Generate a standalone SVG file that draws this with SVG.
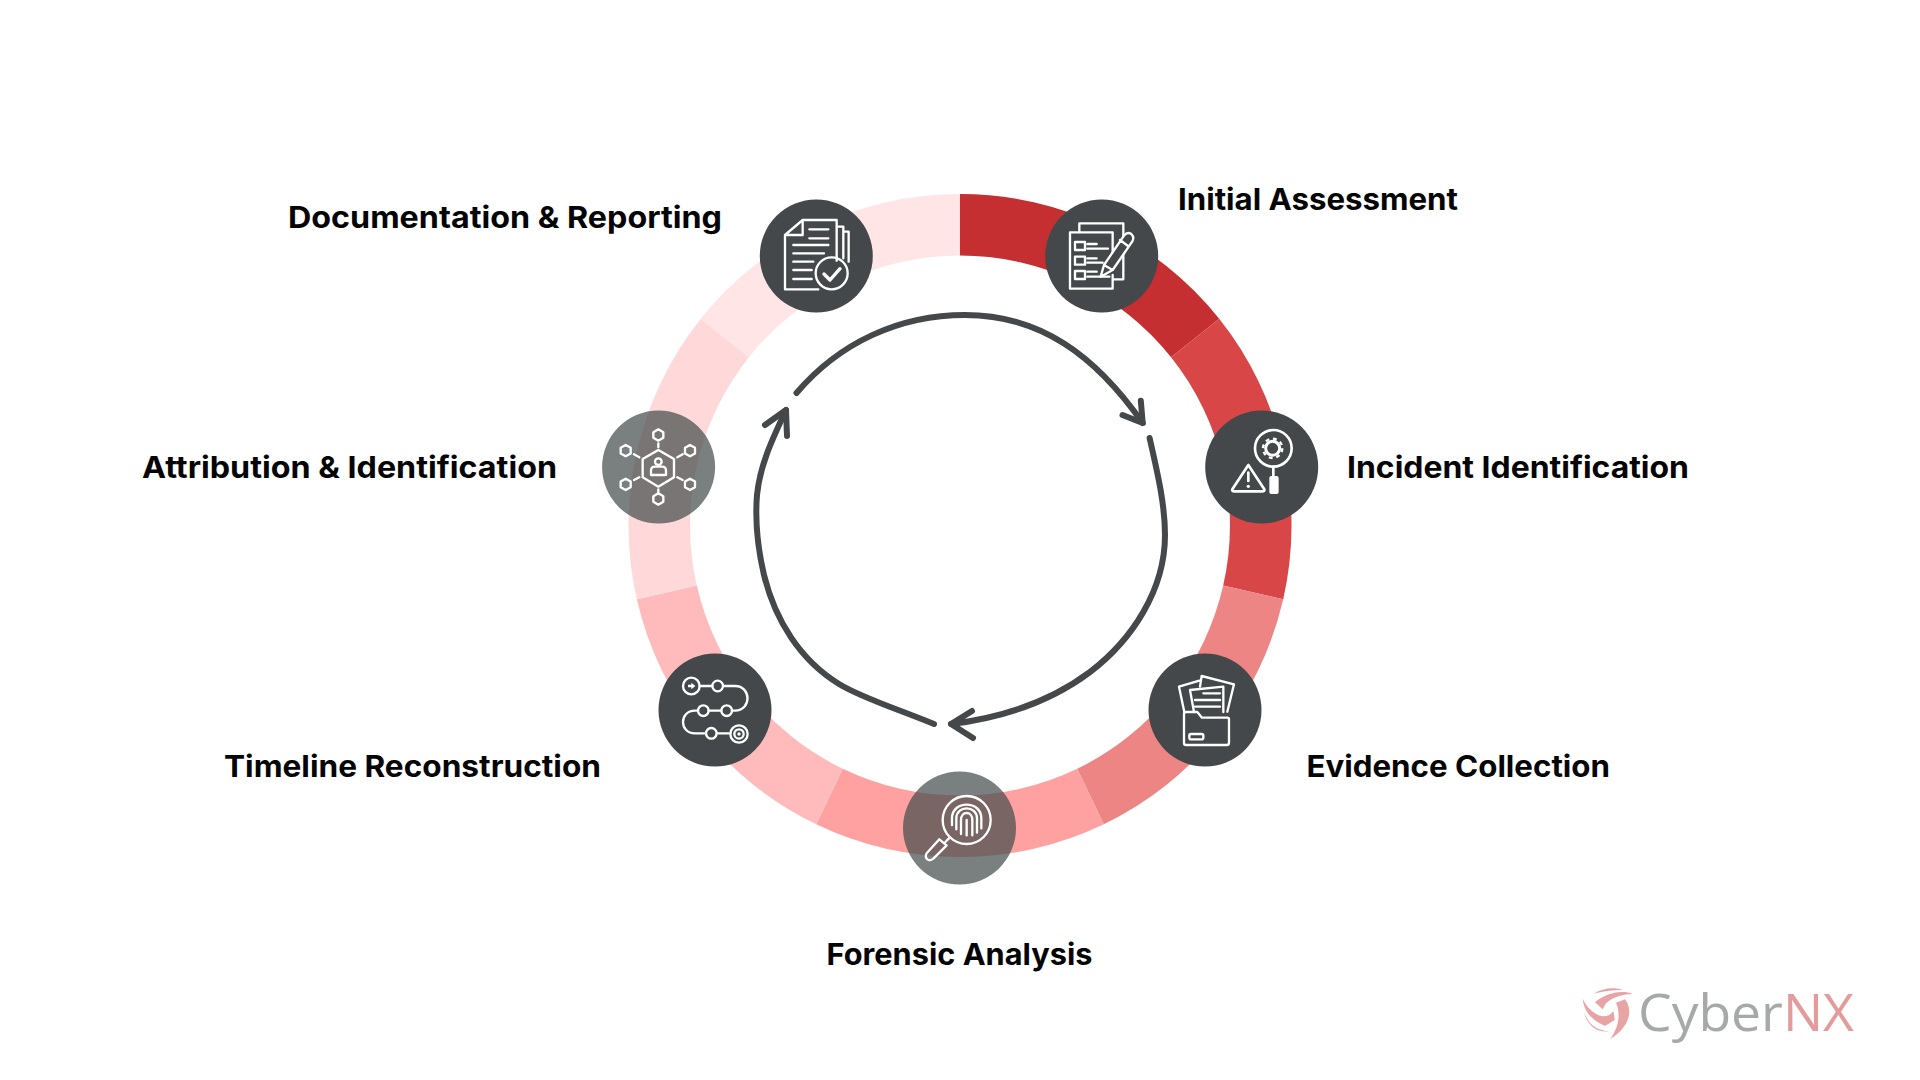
<svg xmlns="http://www.w3.org/2000/svg" xmlns:xlink="http://www.w3.org/1999/xlink" width="1920" height="1080" viewBox="0 0 1920 1080">
<style>
.lbl{font-family:"Inter","Liberation Sans",sans-serif;font-weight:700;font-size:30px;fill:#050505}
.ic{fill:none;stroke:#fff;stroke-width:7;stroke-linecap:round;stroke-linejoin:round}
.fw{fill:#fff;stroke:none}
.disc{fill:#45484A}
.discT{fill:#464E4D;fill-opacity:.72}
.arc{fill:none;stroke:#45484A;stroke-width:6;stroke-linecap:round;stroke-linejoin:round}
.logo{font-family:"Open Sans","Noto Sans",sans-serif;font-size:52px;font-weight:500}
</style>
<defs>
<polygon id="hexS" points="0,-17 15,-8.5 15,8.5 0,17 -15,8.5 -15,-8.5"/>
</defs>
<rect width="1920" height="1080" fill="#fff"/>
<g id="ring">
<path fill="#C62F31" d="M960 194A331.5 331.5 0 0 1 1219.2 318.8L1171.1 357.2A270 270 0 0 0 960 255.5Z"/>
<path fill="#D84648" d="M1219.2 318.8A331.5 331.5 0 0 1 1283.2 599.3L1223.2 585.6A270 270 0 0 0 1171.1 357.2Z"/>
<path fill="#ED8585" d="M1283.2 599.3A331.5 331.5 0 0 1 1103.8 824.2L1077.2 768.8A270 270 0 0 0 1223.2 585.6Z"/>
<path fill="#FFA0A1" d="M1103.8 824.2A331.5 331.5 0 0 1 816.2 824.2L842.8 768.8A270 270 0 0 0 1077.2 768.8Z"/>
<path fill="#FFBBBC" d="M816.2 824.2A331.5 331.5 0 0 1 636.8 599.3L696.8 585.6A270 270 0 0 0 842.8 768.8Z"/>
<path fill="#FFD9DA" d="M636.8 599.3A331.5 331.5 0 0 1 700.8 318.8L748.9 357.2A270 270 0 0 0 696.8 585.6Z"/>
<path fill="#FFE5E6" d="M700.8 318.8A331.5 331.5 0 0 1 960 194L960 255.5A270 270 0 0 0 748.9 357.2Z"/>
</g>
<g id="connectors">
<path class="arc" d="M796.5 393C840 342 900 315 965 315C1040 315 1095 355 1142.7 423"/>
<path class="arc" d="M1140.8 400.7L1142.7 423L1122.5 415"/>
<path class="arc" d="M1149.6 438C1158 475 1165 505 1165 535C1165 590 1132 640 1090 672C1050 702 1000 718 951 724"/>
<path class="arc" d="M972 711L951 724L973 738"/>
<path class="arc" d="M934 724C895 708 862 698 839 684C800 660 775 620 764 575C757 545 755 520 757 495C760 465 772 440 786 410"/>
<path class="arc" d="M765 425L786 410L787 436"/>
</g>
<g id="node-initial-assessment">
<circle class="disc" cx="1101.7" cy="256" r="56.5"/>
<g class="ic" transform="translate(1030 190) scale(.3333)">
<path d="M148 126V100H280V268H250"/>
<path d="M248 255V296H120V127H248V222"/>
<rect x="135" y="156" width="30" height="24"/><rect x="135" y="200" width="30" height="24"/><rect x="135" y="243" width="30" height="24"/>
<path d="M172 162H200M172 176H234M172 205H200M172 218H218M172 245H200M172 260H238"/>
<path fill="#45484A" d="M212 260L222 225L282 137Q292 124 304 132Q314 142 307 154L248 240ZM222 225L248 240M270 150L294 168"/>
</g>
<text class="lbl" x="1178" y="209.5" textLength="280" lengthAdjust="spacingAndGlyphs">Initial Assessment</text>
</g>
<g id="node-incident-identification">
<circle class="disc" cx="1261.7" cy="467" r="56.5"/>
<g class="ic" transform="translate(1200 400) scale(.3333)">
<circle cx="220" cy="145" r="55" stroke-width="8"/>
<circle cx="218" cy="145" r="21" stroke-width="9"/>
<circle cx="218" cy="145" r="29" stroke-width="7" stroke-dasharray="11.4 11.4" stroke-linecap="butt"/>
<path d="M220 200V228" stroke-width="8"/>
<rect class="fw" x="208" y="228" width="28" height="54" rx="6"/>
<path d="M145 195L97 268Q95 274 103 274H187Q195 274 193 268Z" stroke-width="8"/>
<path d="M145 218V243" stroke-width="8"/>
<circle class="fw" cx="145" cy="259" r="5"/>
</g>
<text class="lbl" x="1347" y="477.5" textLength="342" lengthAdjust="spacingAndGlyphs">Incident Identification</text>
</g>
<g id="node-evidence-collection">
<circle class="disc" cx="1205" cy="710" r="56.5"/>
<g class="ic" transform="translate(1140 650) scale(.3333)">
<path d="M132 278V192Q132 186 138 186H172L186 203H262Q267 203 267 208V278Q267 285 260 285H138Q132 285 132 278Z"/>
<rect x="148" y="252" width="42" height="16" rx="5"/>
<path d="M162 186L150 120L250 110V186"/>
<path d="M190 130H240M165 150H240M165 170H240"/>
<path d="M133 186L117 110L178 92M180 110L185 78L282 103L262 185"/>
</g>
<text class="lbl" x="1306.5" y="776.5" textLength="303.5" lengthAdjust="spacingAndGlyphs">Evidence Collection</text>
</g>
<g id="node-forensic-analysis">
<circle class="discT" cx="959.5" cy="828" r="56.5"/>
<g class="ic" transform="translate(890 770) scale(.3333)">
<circle cx="230" cy="150" r="72"/>
<path d="M180 202L166 216"/>
<path d="M148 208L110 250Q104 262 112 268Q120 274 130 266L170 226Z"/>
<path d="M186 165V145C186 90 274 90 274 145V175"/>
<path d="M199 178V145C199 105 261 105 261 145V188"/>
<path d="M213 192V150C213 122 247 122 247 150V196"/>
<path d="M230 196V150"/>
</g>
<text class="lbl" x="826.5" y="964.5" textLength="266" lengthAdjust="spacingAndGlyphs">Forensic Analysis</text>
</g>
<g id="node-timeline-reconstruction">
<circle class="disc" cx="715" cy="710" r="56.5"/>
<g class="ic" transform="translate(650 650) scale(.3333)">
<circle cx="124" cy="108" r="25"/>
<path class="fw" d="M114 104H124V98L136 108L124 118V112H114Z"/>
<path d="M149 108H187"/>
<circle cx="203" cy="108" r="16"/>
<path d="M219 108H255C305 108 305 182 255 182H246"/>
<circle cx="230" cy="182" r="16"/>
<path d="M214 182H176"/>
<circle cx="160" cy="182" r="16"/>
<path d="M144 182H135C87 182 87 250 135 250H168"/>
<circle cx="184" cy="250" r="16"/>
<path d="M200 250H241"/>
<circle cx="267" cy="252" r="26"/>
<circle cx="267" cy="252" r="14"/>
<circle class="fw" cx="267" cy="252" r="5"/>
</g>
<text class="lbl" x="224" y="776.5" textLength="377" lengthAdjust="spacingAndGlyphs">Timeline Reconstruction</text>
</g>
<g id="node-attribution-identification">
<circle class="discT" cx="658.6" cy="467" r="56.5"/>
<g class="ic" transform="translate(590 400) scale(.3333)">
<polygon points="205,150 252,177 252,232 205,260 158,232 158,177"/>
<circle cx="205" cy="185" r="10"/>
<path d="M183 225V212Q183 200 195 200H216Q228 200 228 212V225Z"/>
<use xlink:href="#hexS" href="#hexS" x="205" y="105"/>
<use xlink:href="#hexS" href="#hexS" x="300" y="152"/>
<use xlink:href="#hexS" href="#hexS" x="300" y="253"/>
<use xlink:href="#hexS" href="#hexS" x="205" y="297"/>
<use xlink:href="#hexS" href="#hexS" x="107" y="253"/>
<use xlink:href="#hexS" href="#hexS" x="107" y="152"/>
<path d="M205 130V142M262 172L278 163M262 232L278 240M205 268V280M148 232L132 240M148 172L132 163"/>
</g>
<text class="lbl" x="142" y="477.5" textLength="415" lengthAdjust="spacingAndGlyphs">Attribution &amp; Identification</text>
</g>
<g id="node-documentation-reporting">
<circle class="disc" cx="816.3" cy="256" r="56.5"/>
<g class="ic" transform="translate(750 190) scale(.3333)">
<path d="M205 298H105V135L158 90H260V212M158 90V135H105"/>
<path d="M262 110H280V205M280 125H296V215"/>
<path d="M178 118H235M178 145H235M130 165H235M130 190H222M130 215H190M130 240H185M130 267H185"/>
<circle cx="245" cy="250" r="48"/>
<path d="M222 252L240 270L270 236" stroke-width="10"/>
</g>
<text class="lbl" x="288" y="228" textLength="434" lengthAdjust="spacingAndGlyphs">Documentation &amp; Reporting</text>
</g>
<g id="logo">
<g transform="translate(1560 970) scale(.3333)" fill="#E8A3A5">
<path d="M100 72C125 55 160 50 190 60C160 60 125 64 100 72Z"/>
<path d="M105 97C140 66 190 60 218 72C190 72 160 80 138 100L128 118Z"/>
<path d="M168 98L195 88C220 120 210 170 150 208C178 170 182 130 168 98Z"/>
<path d="M68 86C72 125 95 150 135 168L164 150L160 122C150 140 125 145 105 130C90 120 76 105 68 86Z"/>
<path d="M72 125C85 165 112 182 148 184C112 190 80 165 72 125Z"/>
</g>
<text class="logo" x="1638" y="1030.5" textLength="216" lengthAdjust="spacingAndGlyphs"><tspan fill="#A7A9A9">Cyber</tspan><tspan fill="#E59A9C">NX</tspan></text>
</g>
</svg>
